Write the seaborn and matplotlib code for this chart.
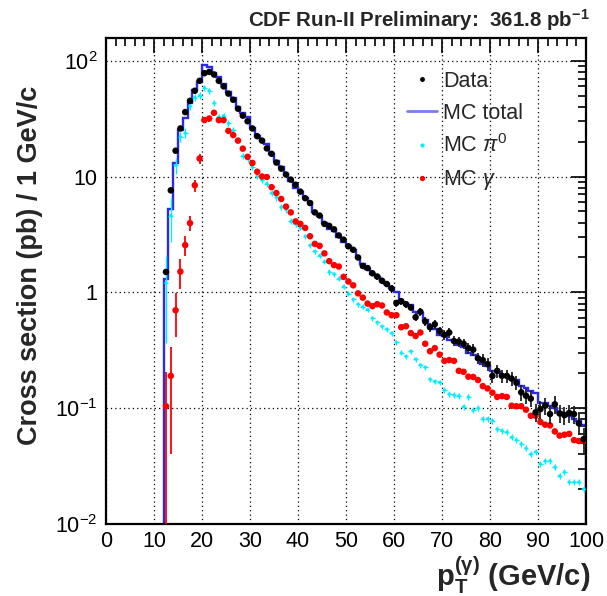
import numpy as np
import matplotlib
matplotlib.use("Agg")
import matplotlib.pyplot as plt
import seaborn as sns
from matplotlib.lines import Line2D
from matplotlib.ticker import FixedLocator, FixedFormatter, MultipleLocator, LogLocator, NullFormatter

# ---------------- data ----------------
# bin centres of the measured spectrum, pT = 12.5 ... 99.5 GeV/c (1 GeV bins)
pt = np.arange(12.5, 100.0, 1.0)

data_xs = [1.5, 7.6, 16.7, 26, 36, 45, 55, 67, 78, 80,
           76, 67, 60, 52, 46, 38.5, 33.5, 30, 26, 22.3,
           20.4, 17.5, 15.7, 13.2, 11.7, 10.4, 9.4, 8.5, 7.4, 6.5,
           5.9, 4.9, 4.6, 3.9, 3.75, 3.5, 3.1, 2.85, 2.5, 2.33,
           2.0, 1.69, 1.62, 1.46, 1.37, 1.26, 1.18, 1.08, 0.81, 0.84,
           0.79, 0.74, 0.61, 0.68, 0.56, 0.50, 0.53, 0.465, 0.43, 0.45,
           0.38, 0.375, 0.36, 0.33, 0.32, 0.27, 0.26, 0.24, 0.19, 0.21,
           0.19, 0.19, 0.18, 0.166, 0.137, 0.128, 0.121, 0.092, 0.098, 0.105,
           0.089, 0.108, 0.090, 0.087, 0.091, 0.089, 0.074, 0.054]
data_relerr = [0.06, 0.03, 0.025, 0.02, 0.02, 0.02, 0.02, 0.02, 0.02, 0.02,
               0.02, 0.02, 0.02, 0.02, 0.02, 0.025, 0.025, 0.025, 0.025, 0.03,
               0.03, 0.03, 0.03, 0.03, 0.035, 0.035, 0.035, 0.035, 0.04, 0.04,
               0.04, 0.04, 0.045, 0.045, 0.045, 0.05, 0.05, 0.05, 0.05, 0.05,
               0.055, 0.055, 0.06, 0.06, 0.06, 0.06, 0.065, 0.065, 0.07, 0.07,
               0.07, 0.075, 0.08, 0.08, 0.085, 0.09, 0.09, 0.09, 0.095, 0.095,
               0.10, 0.10, 0.10, 0.105, 0.11, 0.115, 0.12, 0.12, 0.13, 0.125,
               0.13, 0.13, 0.135, 0.14, 0.15, 0.155, 0.16, 0.18, 0.175, 0.17,
               0.18, 0.17, 0.18, 0.185, 0.18, 0.18, 0.20, 0.25]

mc_gamma = [0.104, 0.19, 0.70, 1.51, 2.56, 3.96, 8.4, 14.3, 30.7, 31.7,
            35.5, 30.7, 30.7, 24.8, 22.8, 20.4, 17.4, 14.8, 13.1, 11.0,
            10.0, 9.9, 8.1, 7.2, 6.4, 5.5, 4.9, 4.1, 3.9, 3.6,
            3.05, 2.62, 2.52, 2.17, 1.86, 1.72, 1.67, 1.36, 1.24, 1.15,
            0.98, 0.90, 0.80, 0.76, 0.79, 0.77, 0.67, 0.635, 0.635, 0.50,
            0.51, 0.445, 0.42, 0.45, 0.36, 0.31, 0.33, 0.29, 0.256, 0.26,
            0.256, 0.21, 0.206, 0.187, 0.186, 0.175, 0.155, 0.148, 0.136, 0.125,
            0.127, 0.125, 0.105, 0.104, 0.104, 0.097, 0.086, 0.086, 0.076, 0.072,
            0.071, 0.063, 0.058, 0.059, 0.060, 0.053, 0.052, 0.052]
mc_gamma_relerr = [0.96, 0.79, 0.41, 0.29, 0.20, 0.15, 0.12, 0.10, 0.06, 0.06,
                   0.05, 0.05, 0.05, 0.05, 0.05, 0.05, 0.05, 0.05, 0.045, 0.045,
                   0.045, 0.045, 0.045, 0.04, 0.04, 0.04, 0.04, 0.04, 0.04, 0.04,
                   0.04, 0.04, 0.04, 0.04, 0.04, 0.04, 0.04, 0.04, 0.04, 0.04,
                   0.04, 0.04, 0.04, 0.04, 0.04, 0.04, 0.04, 0.04, 0.035, 0.035,
                   0.035, 0.035, 0.035, 0.035, 0.035, 0.035, 0.035, 0.035, 0.035, 0.035,
                   0.035, 0.035, 0.035, 0.035, 0.035, 0.035, 0.035, 0.035, 0.035, 0.035,
                   0.035, 0.035, 0.035, 0.035, 0.035, 0.035, 0.035, 0.035, 0.035, 0.035,
                   0.035, 0.035, 0.035, 0.035, 0.035, 0.035, 0.035, 0.06]

mc_pi0 = [1.21, 4.6, 12.5, 22, 23.7, 40.5, 48, 50, 58.5, 55,
          43, 32.7, 33.6, 28.8, 25, 20.6, 15.0, 14.3, 12.1, 10.2,
          9.3, 8.7, 7.2, 6.6, 5.45, 5.2, 4.1, 3.9, 3.6, 3.05,
          2.55, 2.26, 2.08, 1.84, 1.5, 1.44, 1.31, 1.12, 0.97, 0.87,
          0.79, 0.75, 0.71, 0.60, 0.55, 0.51, 0.48, 0.445, 0.37, 0.30,
          0.28, 0.31, 0.265, 0.236, 0.226, 0.178, 0.17, 0.167, 0.143, 0.132,
          0.13, 0.128, 0.103, 0.125, 0.096, 0.10, 0.081, 0.081, 0.078, 0.066,
          0.064, 0.062, 0.056, 0.053, 0.049, 0.045, 0.040, 0.042, 0.033, 0.035,
          0.035, 0.031, 0.026, 0.028, 0.023, 0.023, 0.023, 0.020]
mc_pi0_relerr = [0.70, 0.41, 0.16, 0.10, 0.10, 0.08, 0.07, 0.07, 0.06, 0.06,
                 0.06, 0.06, 0.06, 0.06, 0.06, 0.06, 0.06, 0.06, 0.06, 0.06,
                 0.06, 0.06, 0.06, 0.06, 0.06, 0.06, 0.06, 0.06, 0.05, 0.05,
                 0.05, 0.05, 0.05, 0.05, 0.05, 0.05, 0.05, 0.05, 0.05, 0.05,
                 0.05, 0.05, 0.05, 0.05, 0.05, 0.05, 0.05, 0.05, 0.05, 0.05,
                 0.05, 0.05, 0.05, 0.05, 0.05, 0.05, 0.05, 0.05, 0.06, 0.06,
                 0.06, 0.06, 0.06, 0.06, 0.06, 0.06, 0.06, 0.06, 0.06, 0.06,
                 0.06, 0.06, 0.06, 0.06, 0.06, 0.06, 0.06, 0.06, 0.06, 0.06,
                 0.06, 0.06, 0.06, 0.06, 0.06, 0.06, 0.06, 0.06]

# MC total histogram, bins 0-1, 1-2, ..., 99-100 GeV/c
mc_edges = np.arange(0, 101, 1)
mc_total = [0, 0, 0, 0, 0, 0, 0, 0, 0, 0,
            0, 0, 1.3, 5.2, 13, 25, 32, 43.5, 56, 65,
            92, 89, 79, 72, 63.5, 54, 48, 40, 35.5, 32.5,
            26, 22.3, 20.5, 19, 15.5, 13.5, 12, 10.5, 9.2, 8.0,
            7.3, 6.5, 6.0, 4.9, 4.6, 4.0, 3.5, 3.4, 3.0, 2.7,
            2.5, 2.3, 2.0, 1.75, 1.6, 1.45, 1.35, 1.25, 1.18, 1.08,
            1.0, 0.82, 0.80, 0.77, 0.68, 0.66, 0.58, 0.51, 0.48, 0.43,
            0.42, 0.39, 0.38, 0.35, 0.34, 0.30, 0.29, 0.265, 0.24, 0.23,
            0.21, 0.205, 0.19, 0.19, 0.18, 0.175, 0.155, 0.15, 0.14, 0.135,
            0.11, 0.11, 0.105, 0.10, 0.093, 0.09, 0.085, 0.08, 0.077, 0.071]

x_ticks = [0, 10, 20, 30, 40, 50, 60, 70, 80, 90, 100]
x_tick_labels = ["0", "10", "20", "30", "40", "50", "60", "70", "80", "90", "100"]
y_ticks = [0.01, 0.1, 1, 10, 100]
y_tick_labels = [r"$\mathregular{10^{-2}}$", r"$\mathregular{10^{-1}}$", "1", "10",
                 r"$\mathregular{10^{2}}$"]

legend_labels = ["Data", "MC total", r"MC $\pi^{0}$", r"MC $\gamma$"]
title_text = r"CDF Run-II Preliminary:  361.8 pb$^{\mathbf{-1}}$"
xlabel_text = r"$\mathbf{p_{T}^{(\gamma)}}$ (GeV/c)"
ylabel_text = "Cross section (pb) / 1 GeV/c"

# ---------------- style ----------------
sns.set_theme(style="white")
plt.rcParams["font.family"] = ["Liberation Sans", "DejaVu Sans"]
plt.rcParams["mathtext.fontset"] = "custom"
plt.rcParams["mathtext.rm"] = "Liberation Sans"
plt.rcParams["mathtext.it"] = "Liberation Sans:italic"
plt.rcParams["mathtext.bf"] = "Liberation Sans:bold"

c_data = "black"
c_total = "#2a2ae8"
c_total_leg = "#7b7bf5"
c_pi0 = "#00eeff"
c_gamma = "#ff0000"

fig = plt.figure(figsize=(6.07, 5.96), dpi=100)
ax = fig.add_axes([106 / 607, 1 - 524 / 596, 480 / 607, 486 / 596])

pt = np.asarray(pt)
data_xs = np.asarray(data_xs)
mc_gamma = np.asarray(mc_gamma)
mc_pi0 = np.asarray(mc_pi0)

ax.set_yscale("log")

# MC total as step histogram
ax.stairs(mc_total, mc_edges, color=c_total, linewidth=1.7, zorder=2)

# MC pi0
ax.errorbar(pt, mc_pi0, yerr=mc_pi0 * np.asarray(mc_pi0_relerr), xerr=0.5, fmt="none",
            ecolor=c_pi0, elinewidth=1.0, capsize=0, zorder=3)
sns.scatterplot(x=pt, y=mc_pi0, color=c_pi0, s=5, edgecolor="none", ax=ax, zorder=3)

# MC gamma
ax.errorbar(pt, mc_gamma, yerr=mc_gamma * np.asarray(mc_gamma_relerr), fmt="none",
            ecolor=c_gamma, elinewidth=1.3, capsize=0, zorder=4)
sns.scatterplot(x=pt, y=mc_gamma, color=c_gamma, s=22, edgecolor="none", ax=ax, zorder=4)

# Data
ax.errorbar(pt, data_xs, yerr=data_xs * np.asarray(data_relerr), fmt="none",
            ecolor="#222222", elinewidth=1.3, capsize=0, zorder=5)
sns.scatterplot(x=pt, y=data_xs, color=c_data, s=22, edgecolor="none", ax=ax, zorder=5)

ax.set_xlim(0, 100)
ax.set_ylim(0.01, 157)
ax.set_xlabel("")
ax.set_ylabel("")

ax.xaxis.set_major_locator(FixedLocator(x_ticks))
ax.xaxis.set_major_formatter(FixedFormatter(x_tick_labels))
ax.xaxis.set_minor_locator(MultipleLocator(2))
ax.yaxis.set_major_locator(FixedLocator(y_ticks))
ax.yaxis.set_major_formatter(FixedFormatter(y_tick_labels))
ax.yaxis.set_minor_locator(LogLocator(base=10, subs=np.arange(2, 10)))
ax.yaxis.set_minor_formatter(NullFormatter())

ax.tick_params(which="both", direction="in", top=True, right=True, colors="black",
               width=1.2, labelsize=15.5)
ax.tick_params(which="major", length=10.5)
ax.tick_params(which="minor", length=5.5)
ax.tick_params(axis="x", which="major", pad=5)
ax.tick_params(axis="y", which="major", pad=6)

ax.grid(True, which="major", color="black", linestyle=(0, (1, 2.5)), linewidth=0.9)
ax.set_axisbelow(True)
for sp in ax.spines.values():
    sp.set_visible(True)
    sp.set_linewidth(1.6)
    sp.set_color("black")

handles = [Line2D([], [], marker="o", color=c_data, ls="none", markersize=2.5),
           Line2D([], [], color=c_total_leg, lw=2.0),
           Line2D([], [], marker="o", color=c_pi0, ls="none", markersize=2.0),
           Line2D([], [], marker="o", color=c_gamma, ls="none", markersize=2.8)]
ax.legend(handles, legend_labels, loc="upper left",
          bbox_to_anchor=(407 / 607, 1 - 71 / 596), bbox_transform=fig.transFigure,
          frameon=False, fontsize=15.5, handlelength=1.4, handletextpad=0.28,
          labelspacing=0.5, borderpad=0, borderaxespad=0)

fig.text(590 / 607, 1 - 20 / 596, title_text, ha="right", va="center",
         fontsize=14.8, fontweight="bold")
fig.text(590 / 607, 1 - 586 / 596, xlabel_text, ha="right", va="baseline",
         fontsize=21, fontweight="bold")
fig.text(30 / 607, 1 - 265 / 596, ylabel_text, ha="center", va="center",
         rotation=90, fontsize=19.5, fontweight="bold")

fig.savefig("out.png", dpi=100, facecolor="white")
